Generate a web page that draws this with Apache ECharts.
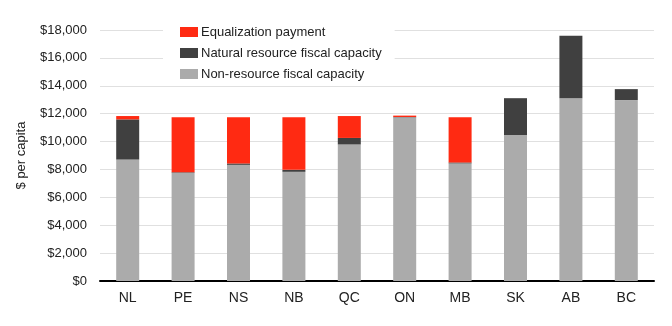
<!DOCTYPE html>
<html>
<head>
<meta charset="utf-8">
<script src="https://cdn.jsdelivr.net/npm/echarts@6/dist/echarts.min.js"></script>
<style>html,body{margin:0;padding:0;background:#fff}#c{width:672px;height:326px}</style>
</head>
<body>
<div id="c"></div>
<script>
const categories = ['NL','PE','NS','NB','QC','ON','MB','SK','AB','BC'];
const nonResource = [8710, 7760, 8330, 7830, 9790, 11740, 8430, 10470, 13110, 12970];
const naturalResource = [2880, 40, 100, 140, 470, 20, 70, 2640, 4480, 790];
const equalization = [240, 3940, 3310, 3770, 1570, 100, 3240, 0, 0, 0];

const chart = echarts.init(document.getElementById('c'), null, {renderer: 'canvas'});
const font = 'Liberation Sans, Arial, sans-serif';
chart.setOption({
  animation: false,
  backgroundColor: '#fff',
  textStyle: {fontFamily: font},
  grid: {left: 100, right: 18, top: 30, bottom: 45, containLabel: false},
  legend: {
    orient: 'vertical',
    left: 163, top: 20,
    width: 230,
    padding: [5, 13, 5, 17],
    backgroundColor: '#fff',
    itemWidth: 18, itemHeight: 10, itemGap: 7,
    icon: 'rect',
    data: ['Equalization payment', 'Natural resource fiscal capacity', 'Non-resource fiscal capacity'],
    textStyle: {fontFamily: font, fontSize: 13, color: '#222', lineHeight: 14, padding: [0, 0, 0, -2]}
  },
  xAxis: {
    type: 'category',
    data: categories,
    axisLine: {lineStyle: {color: '#000', width: 2}},
    axisTick: {show: false},
    axisLabel: {fontFamily: font, fontSize: 14, color: '#222', margin: 10}
  },
  yAxis: {
    type: 'value',
    min: 0, max: 18000, interval: 2000,
    name: '$ per capita',
    nameLocation: 'middle',
    nameGap: 72,
    nameTextStyle: {fontFamily: font, fontSize: 13, color: '#222'},
    axisLine: {show: false},
    axisTick: {show: false},
    splitLine: {lineStyle: {color: '#e0e0e0', width: 1}},
    axisLabel: {
      fontFamily: font, fontSize: 13, color: '#222', margin: 13,
      formatter: v => '$' + v.toLocaleString('en-US')
    }
  },
  series: [
    {name: 'Non-resource fiscal capacity', type: 'bar', stack: 't', data: nonResource, barWidth: 23, itemStyle: {color: '#ababab'}},
    {name: 'Natural resource fiscal capacity', type: 'bar', stack: 't', data: naturalResource, barWidth: 23, itemStyle: {color: '#404040'}},
    {name: 'Equalization payment', type: 'bar', stack: 't', data: equalization, barWidth: 23, itemStyle: {color: '#ff2a12'}}
  ]
});
</script>
</body>
</html>
